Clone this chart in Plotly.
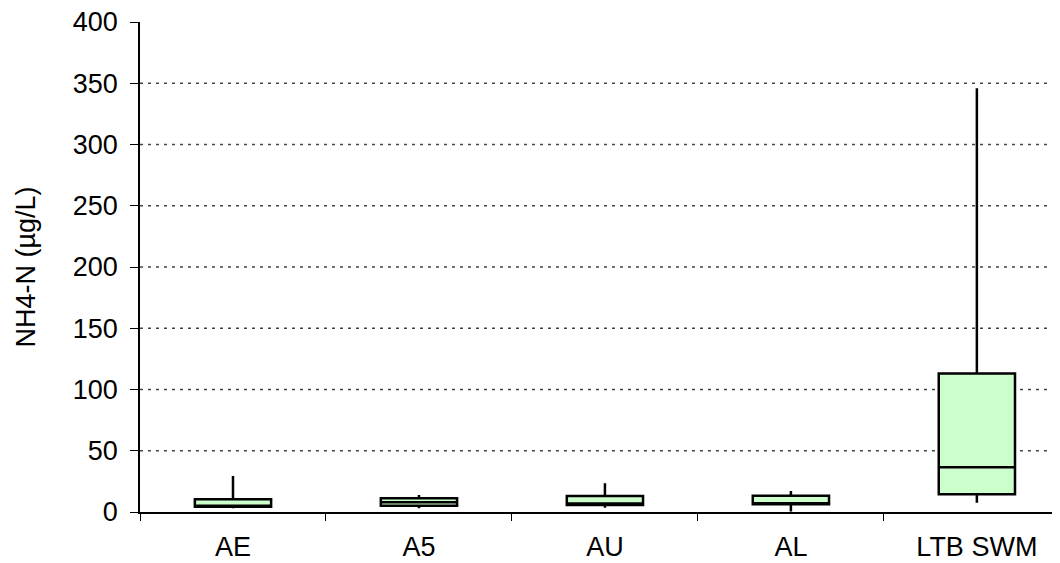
import plotly.graph_objects as go

categories = ["AE", "A5", "AU", "AL", "LTB SWM"]
lower_whisker = [3.0, 3.0, 3.5, 0.5, 7.6]
q1_values = [4.3, 5.1, 5.7, 6.3, 14.4]
median_values = [5.0, 8.0, 7.0, 7.0, 36.5]
q3_values = [10.4, 11.2, 13.0, 13.3, 113.0]
upper_whisker = [29.4, 13.9, 23.4, 17.1, 346.0]
y_ticks = [0, 50, 100, 150, 200, 250, 300, 350, 400]
grid_values = [50, 100, 150, 200, 250, 300, 350]

font_family = "Liberation Sans, Arial, sans-serif"
fsize = 27

fig = go.Figure()
fig.add_trace(go.Box(
    x=categories,
    q1=q1_values,
    median=median_values,
    q3=q3_values,
    lowerfence=lower_whisker,
    upperfence=upper_whisker,
    fillcolor="#CCFFCC",
    line=dict(color="black", width=2.5),
    whiskerwidth=0,
    width=0.41,
    boxpoints=False,
    hoverinfo="skip",
    showlegend=False,
))

for g in grid_values:
    fig.add_shape(type="line", xref="paper", yref="y", x0=0, x1=1, y0=g, y1=g,
                  line=dict(color="#444444", width=1.5, dash="3px,5px"), layer="below")

fig.update_layout(
    width=1060, height=563,
    margin=dict(l=132, r=0, t=14, b=59, autoexpand=False),
    paper_bgcolor="white", plot_bgcolor="white",
    font=dict(family=font_family, size=fsize, color="black"),
    xaxis=dict(
        type="category",
        range=[-0.5, 4.49],
        showline=True, linecolor="black", linewidth=1.5,
        ticks="outside", tickson="boundaries", ticklen=7, tickcolor="black",
        showgrid=False, zeroline=False,
        tickfont=dict(size=fsize),
        ticklabelstandoff=10,
        automargin=False,
    ),
    yaxis=dict(
        range=[0, 400],
        tickvals=y_ticks,
        ticktext=[str(v) for v in y_ticks],
        showline=True, linecolor="black", linewidth=1.5,
        ticks="outside", ticklen=8, tickcolor="black",
        showgrid=False, zeroline=False,
        tickfont=dict(size=fsize),
        ticklabelstandoff=7,
        ticklabeloverflow="allow",
        automargin=False,
        title=dict(text="NH4-N (µg/L)", font=dict(size=fsize), standoff=29),
    ),
)

fig.write_html("out.html")
